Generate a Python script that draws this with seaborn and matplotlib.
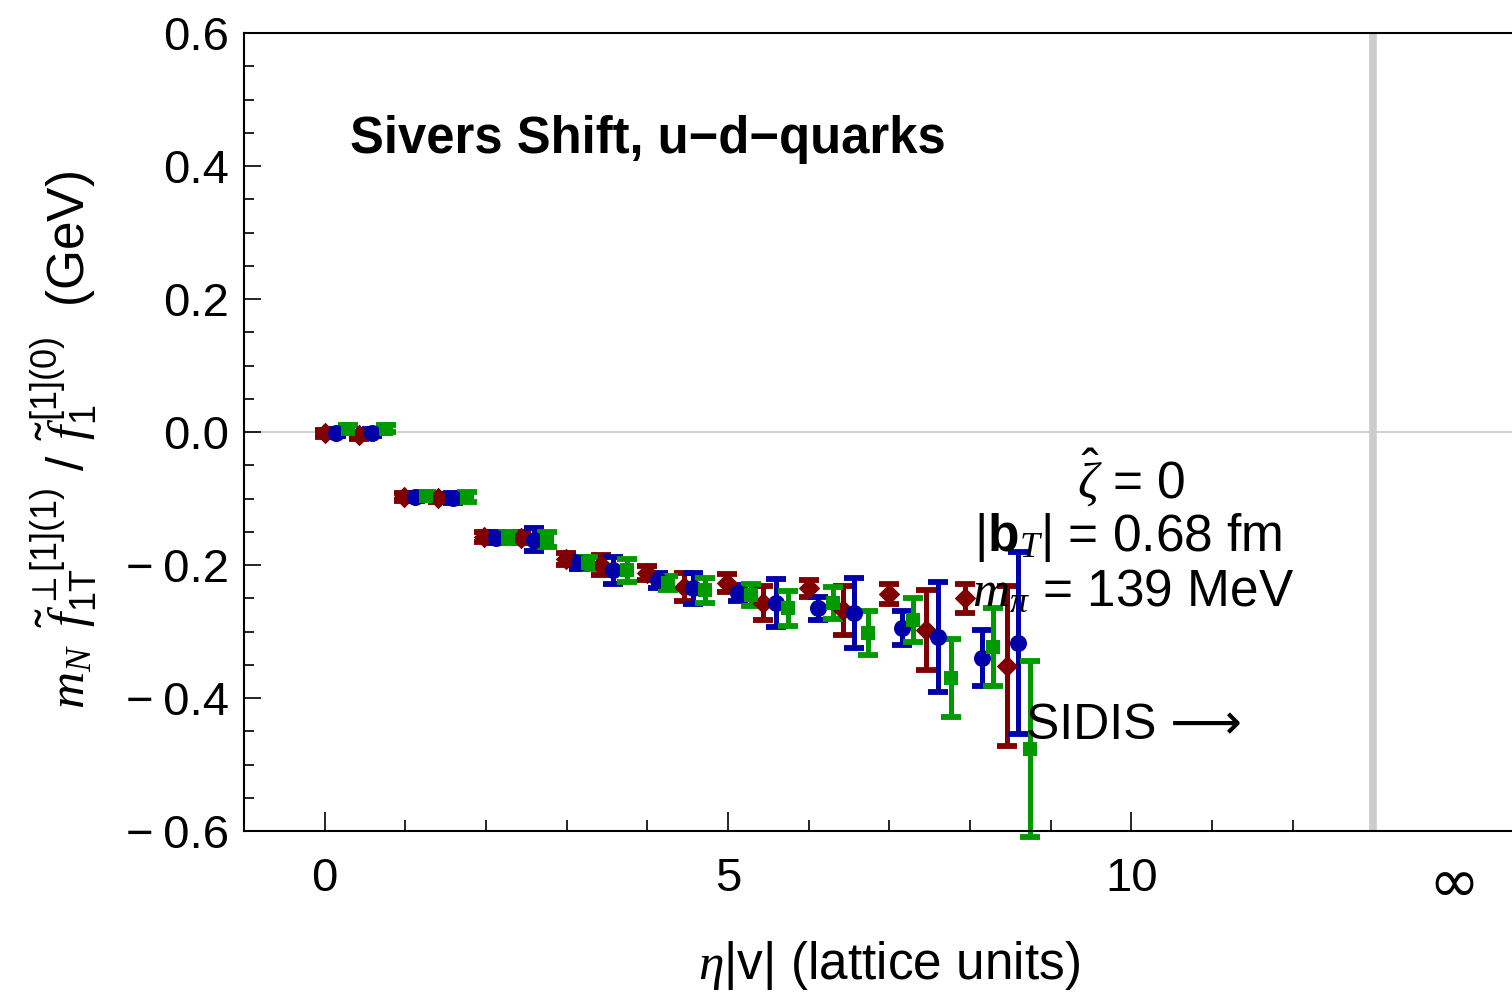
import numpy as np
import pandas as pd
import matplotlib
matplotlib.use("Agg")
import matplotlib.pyplot as plt
import seaborn as sns

# ---------------- data ----------------
x_red = [0.00, 0.42, 0.98, 1.41, 1.97, 2.43, 2.99, 3.42, 4.00, 4.45, 4.99, 5.44, 6.00, 6.43, 7.00, 7.45, 7.94, 8.46]
y_red = [-0.002, -0.005, -0.098, -0.099, -0.158, -0.159, -0.191, -0.200, -0.212, -0.233,
         -0.227, -0.257, -0.235, -0.268, -0.244, -0.298, -0.250, -0.352]
e_red = [0.005, 0.005, 0.006, 0.006, 0.007, 0.008, 0.009, 0.015, 0.010, 0.021,
         0.013, 0.026, 0.013, 0.037, 0.015, 0.060, 0.022, 0.120]

x_blue = [0.14, 0.59, 1.12, 1.59, 2.12, 2.59, 3.15, 3.57, 4.13, 4.57, 5.12, 5.59, 6.12, 6.56, 7.16, 7.60, 8.15, 8.60]
y_blue = [-0.001, -0.001, -0.098, -0.099, -0.159, -0.162, -0.197, -0.208, -0.223, -0.235,
          -0.242, -0.257, -0.265, -0.272, -0.295, -0.308, -0.340, -0.317]
e_blue = [0.005, 0.005, 0.006, 0.008, 0.008, 0.017, 0.009, 0.020, 0.011, 0.023,
          0.012, 0.036, 0.017, 0.053, 0.026, 0.083, 0.042, 0.137]

x_green = [0.29, 0.76, 1.26, 1.76, 2.27, 2.76, 3.27, 3.75, 4.26, 4.72, 5.28, 5.75, 6.30, 6.74, 7.30, 7.76, 8.29, 8.75]
y_green = [0.005, 0.005, -0.096, -0.098, -0.159, -0.162, -0.197, -0.208, -0.227, -0.238,
           -0.245, -0.265, -0.257, -0.302, -0.283, -0.370, -0.323, -0.477]
e_green = [0.005, 0.005, 0.006, 0.008, 0.008, 0.011, 0.009, 0.017, 0.011, 0.019,
           0.017, 0.026, 0.024, 0.033, 0.033, 0.059, 0.059, 0.132]

series_names = ["red", "blue", "green"]
colors = {"red": "#800000", "blue": "#0000AA", "green": "#009900"}
markers = {"red": "D", "blue": "o", "green": "s"}
sizes = {"red": 120, "blue": 150, "green": 90}

x_major = [0, 5, 10, 14]
x_major_labels = ["0", "5", "10", "\u221e"]
x_minor = [1, 2, 3, 4, 6, 7, 8, 9, 11, 12]
y_major = [-0.6, -0.4, -0.2, 0.0, 0.2, 0.4, 0.6]
y_major_labels = ["\u2212\u20090.6", "\u2212\u20090.4", "\u2212\u20090.2", "0.0", "0.2", "0.4", "0.6"]

title_text = "Sivers Shift, u\u2212d\u2212quarks"
info_lines = [r"$\hat{\zeta}$ = 0", r"|$\mathbf{b}_{T}$| = 0.68 fm", r"$m_{\pi}$ = 139 MeV"]
sidis_text = "SIDIS \u27f6"
xlabel = r"$\eta$|v| (lattice units)"
ylabel = r"$m_N\;\;\tilde{f}_{1\mathrm{T}}^{\,\perp[1](1)}\;\,/\;\,\tilde{f}_{1}^{\,[1](0)}$  (GeV)"

# ---------------- build frame ----------------
frames = []
for name, xs, ys, es in [("red", x_red, y_red, e_red),
                         ("blue", x_blue, y_blue, e_blue),
                         ("green", x_green, y_green, e_green)]:
    frames.append(pd.DataFrame({"x": xs, "y": ys, "err": es, "series": name}))
df = pd.concat(frames, ignore_index=True)

# ---------------- style ----------------
sns.set_style("ticks")
plt.rcParams["font.family"] = ["Liberation Sans", "DejaVu Sans"]
plt.rcParams["mathtext.fontset"] = "custom"
plt.rcParams["mathtext.rm"] = "Liberation Sans"
plt.rcParams["mathtext.it"] = "Liberation Serif:italic"
plt.rcParams["mathtext.bf"] = "Liberation Sans:bold"
for k in ["text.color", "axes.labelcolor", "xtick.color", "ytick.color", "axes.edgecolor"]:
    plt.rcParams[k] = "black"

W, H = 1512, 993
fig = plt.figure(figsize=(W / 100, H / 100), dpi=100)
left, right, top, bottom = 244, 1534.5, 33, 831
ax = fig.add_axes([left / W, 1 - bottom / H, (right - left) / W, (bottom - top) / H])

ax.axhline(0, color="#c8c8c8", lw=1.2, zorder=0)
ax.axvline(13, color="#cccccc", lw=5.5, zorder=0)

for name in series_names:
    sub = df[df["series"] == name]
    eb = ax.errorbar(sub["x"], sub["y"], yerr=sub["err"], fmt="none", ecolor=colors[name],
                     elinewidth=3.6, capsize=7.2, capthick=4.2, zorder=2)
    for art in eb.lines[1] + eb.lines[2]:
        art.set_clip_on(False)
    sns.scatterplot(data=sub, x="x", y="y", color=colors[name], marker=markers[name],
                    s=sizes[name], linewidth=0, ax=ax, zorder=3, legend=False)

ax.set_xlim(-1, 15)
ax.set_ylim(-0.6, 0.6)

ax.set_xticks(x_major, x_major_labels)
ax.set_xticks(x_minor, minor=True)
ax.set_yticks(y_major, y_major_labels)
ax.set_yticks(np.arange(-0.55, 0.6, 0.05).round(2), minor=True)
ax.xaxis.get_major_ticks()[3].tick1line.set_visible(False)

ax.tick_params(axis="both", which="both", direction="in", top=False, right=False, color="black")
ax.tick_params(axis="x", which="major", length=14, width=1.2, labelsize=34, pad=19)
ax.tick_params(axis="x", which="minor", length=8, width=1.2)
ax.tick_params(axis="y", which="major", length=12, width=1.2, labelsize=34, pad=11)
ax.tick_params(axis="y", which="minor", length=7, width=1.2)
inf_label = ax.get_xticklabels()[3]
inf_label.set_fontsize(44)
inf_label.set_family(["DejaVu Sans"])

for s in ax.spines.values():
    s.set_linewidth(1.5)
    s.set_color("black")

ax.set_xlabel(xlabel, fontsize=37)
ax.xaxis.set_label_coords(0.5, -0.135)
ax.set_ylabel(ylabel, fontsize=37)
ax.yaxis.set_label_coords(-0.112, 0.49)

ax.text(0.32, 0.44, title_text, fontsize=36.5, fontweight="bold", ha="left", va="center")
ax.text(10.0, -0.070, info_lines[0], fontsize=37, ha="center", va="center")
ax.text(9.96, -0.159, info_lines[1], fontsize=37, ha="center", va="center")
ax.text(10.02, -0.242, info_lines[2], fontsize=37, ha="center", va="center")
ax.text(8.69, -0.442, sidis_text, fontsize=36, ha="left", va="center",
        family=["Liberation Sans", "DejaVu Sans"])

ax.set_facecolor("white")
fig.patch.set_facecolor("white")
fig.savefig("out.png", dpi=100)
